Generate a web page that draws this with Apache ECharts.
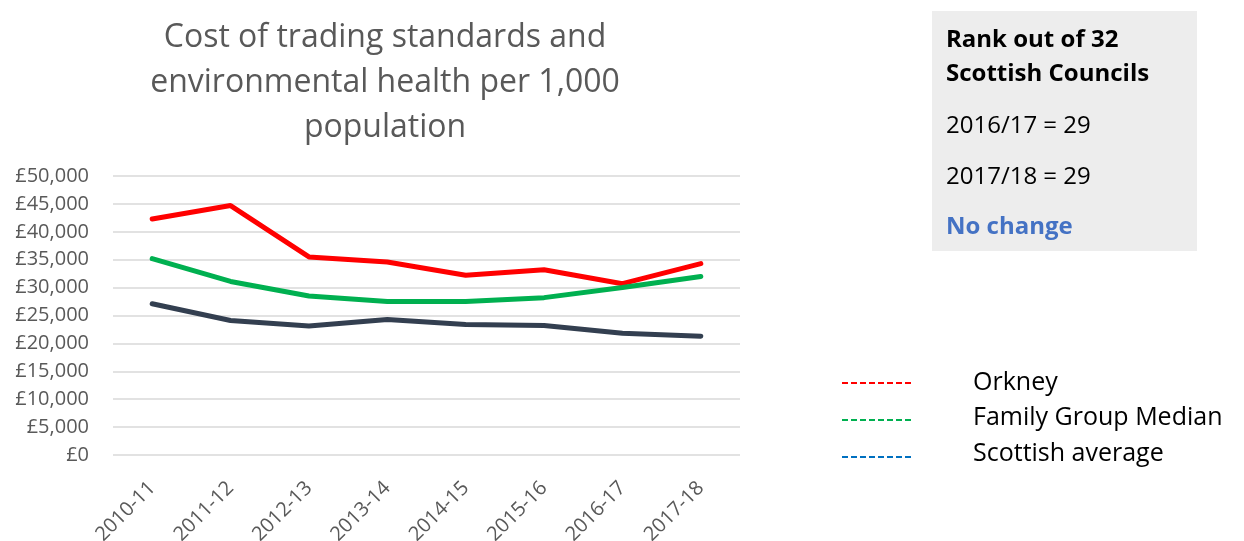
<!DOCTYPE html>
<html>
<head>
<meta charset="utf-8">
<script src="https://cdn.jsdelivr.net/npm/echarts@6/dist/echarts.min.js"></script>
<style>
  html, body { margin: 0; padding: 0; background: #fff; }
  #chart { width: 1244px; height: 541px; }
</style>
</head>
<body>
<div id="chart"></div>
<script>
// data
const years = ['2010-11', '2011-12', '2012-13', '2013-14', '2014-15', '2015-16', '2016-17', '2017-18'];
const orkney = [42300, 44700, 35500, 34600, 32200, 33200, 30700, 34300];
const familyMedian = [35200, 31100, 28500, 27500, 27500, 28200, 30000, 32000];
const scottishAvg = [27100, 24100, 23100, 24300, 23400, 23200, 21800, 21300];
const legendNames = ['Orkney', 'Family Group Median', 'Scottish average'];
const legendColors = ['#FF0000', '#00B050', '#0070C0'];
const rankLines = ['Rank out of 32', 'Scottish Councils', '2016/17 = 29', '2017/18 = 29', 'No change'];

const font = '"Open Sans", "Noto Sans", sans-serif';
const chart = echarts.init(document.getElementById('chart'), null, { renderer: 'canvas' });

// legend drawn as graphics (dashed swatches, colours differ from the lines)
const legendGraphics = [];
const legendTextY = [383, 418, 454];
legendNames.forEach(function (name, i) {
    const y = 383 + i * 37;
    legendGraphics.push({
        type: 'line',
        shape: { x1: 842, y1: y, x2: 911, y2: y },
        style: { stroke: legendColors[i], lineWidth: 2, lineDash: [6, 3] }
    });
    legendGraphics.push({
        type: 'text',
        x: 973, y: legendTextY[i],
        style: { text: name, font: '25px ' + font, fill: '#000', verticalAlign: 'middle' }
    });
});

const rankY = [40, 74, 126, 177, 227];
const rankGraphics = [{
    type: 'rect',
    shape: { x: 932, y: 11, width: 265, height: 240 },
    style: { fill: '#EDEDED' }
}];
rankLines.forEach(function (t, i) {
    const bold = (i < 2 || i === 4);
    rankGraphics.push({
        type: 'text',
        x: 946, y: rankY[i],
        style: {
            text: t,
            font: (bold ? 'bold ' : '') + '24px ' + font,
            fill: i === 4 ? '#4472C4' : '#000',
            verticalAlign: 'middle'
        }
    });
});

const option = {
    animation: false,
    backgroundColor: '#fff',
    title: {
        text: 'Cost of trading standards and\nenvironmental health per 1,000\npopulation',
        left: 380, top: 10, textAlign: 'center',
        textStyle: { fontFamily: font, fontSize: 32, fontWeight: 'normal', color: '#595959', lineHeight: 45 }
    },
    grid: { left: 113, right: 504, top: 176, bottom: 86, containLabel: false, outerBoundsMode: 'none' },
    xAxis: {
        type: 'category',
        data: years,
        boundaryGap: true,
        axisLine: { show: false },
        axisTick: { show: false },
        axisLabel: { rotate: 45, margin: 30, fontFamily: font, fontSize: 20, color: '#595959' }
    },
    yAxis: {
        type: 'value',
        min: 0, max: 50000, interval: 5000,
        axisLine: { show: false },
        axisTick: { show: false },
        splitLine: { lineStyle: { color: '#D9D9D9', width: 1.5 } },
        axisLabel: {
            margin: 24, fontFamily: font, fontSize: 20, color: '#595959',
            formatter: function (v) { return '£' + v.toLocaleString('en-GB'); }
        }
    },
    series: [
        { name: 'Orkney', type: 'line', data: orkney, showSymbol: false, lineStyle: { color: '#FF0000', width: 5, cap: 'round' } },
        { name: 'Family Group Median', type: 'line', data: familyMedian, showSymbol: false, lineStyle: { color: '#00B050', width: 5, cap: 'round' } },
        { name: 'Scottish average', type: 'line', data: scottishAvg, showSymbol: false, lineStyle: { color: '#333F50', width: 5, cap: 'round' } }
    ],
    graphic: rankGraphics.concat(legendGraphics)
};

chart.setOption(option);
</script>
</body>
</html>
